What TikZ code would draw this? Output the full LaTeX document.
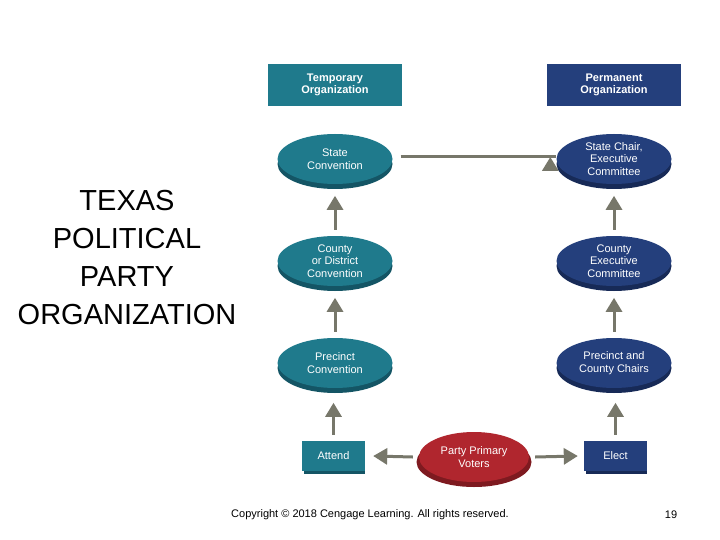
\documentclass[tikz,border=0pt]{standalone}
\usepackage{fontspec}
\setmainfont{Liberation Sans}
\usetikzlibrary{shapes.geometric,arrows.meta}
\definecolor{teal1}{HTML}{1F7A8C}
\definecolor{teal2}{HTML}{145565}
\definecolor{navy1}{HTML}{243F7C}
\definecolor{navy2}{HTML}{172A57}
\definecolor{red1}{HTML}{B0262E}
\definecolor{red2}{HTML}{7E1A20}
\definecolor{arr}{HTML}{77776A}
\tikzset{
 ell/.style={ellipse,minimum width=115pt,minimum height=50pt,inner sep=0pt,text=white,font=\fontsize{11}{12.5}\selectfont,align=center},
 box/.style={rectangle,text=white,font=\fontsize{11}{12.5}\selectfont,align=center,inner sep=0pt},
 hdr/.style={rectangle,text=white,font=\bfseries\fontsize{11}{12.5}\selectfont,align=center,minimum width=134pt,minimum height=42pt},
 conn/.style={draw=arr,line width=3pt,-{Triangle[length=14pt,width=16pt]}},
}
\newcommand{\disc}[4]{% name, pos, fill, shadow, text via node
}
\begin{document}
\begin{tikzpicture}[x=1pt,y=-1pt]
\useasboundingbox (0,0) rectangle (720,540);
\fill[white] (0,0) rectangle (720,540);
% shadows
\foreach \p/\c in {{335,164}/teal2,{335,266}/teal2,{335,368}/teal2,{614,164}/navy2,{614,266}/navy2,{614,368}/navy2,{474,462}/red2}
  \fill[\c] (\p) ellipse (57.5pt and 25pt);
\node[ell,fill=teal1] (sc) at (335,159) {State\\Convention};
\node[ell,fill=teal1] (cd) at (335,261) {County\\or District\\Convention};
\node[ell,fill=teal1] (pc) at (335,363) {Precinct\\Convention};
\node[ell,fill=navy1] (sch) at (614,159) {State Chair,\\Executive\\Committee};
\node[ell,fill=navy1] (ce) at (614,261) {County\\Executive\\Committee};
\node[ell,fill=navy1] (pcc) at (614,363) {Precinct and\\County Chairs};
\node[ell,fill=red1,minimum width=110pt] (ppv) at (474,457) {Party Primary\\Voters};
\fill[teal2] (304,449) rectangle (365,474);
\fill[navy2] (586,449) rectangle (647,474);
\node[box,fill=teal1,minimum width=63pt,minimum height=30pt] (att) at (333.5,456) {Attend};
\node[box,fill=navy1,minimum width=63pt,minimum height=30pt] (el) at (615.5,456) {Elect};
\node[hdr,fill=teal1] (tmp) at (335,85) {Temporary\\Organization};
\node[hdr,fill=navy1] (perm) at (614,85) {Permanent\\Organization};
% connectors
\draw[conn] (cd.north) ++(0,-6) coordinate (a1) -- ++(0,-34) coordinate (a2);
\draw[conn] (pc.north) ++(0,-6) -- ++(0,-34);
\draw[conn] (att.north) ++(0,-6) -- ++(0,-32);
\draw[conn] (ce.north) ++(0,-6) -- ++(0,-34);
\draw[conn] (pcc.north) ++(0,-6) -- ++(0,-34);
\draw[conn] (el.north) ++(0,-6) -- ++(0,-32);
\draw[conn] (sc.east) ++(8,-2) -- (sch.west |- 157,157) ++(-6,0);
\draw[conn] ([xshift=-6pt]ppv.west) -- ([xshift=8pt]att.east);
\draw[conn] ([xshift=6pt]ppv.east) -- ([xshift=-6pt]el.west);
% text
\node[align=center,font=\fontsize{29}{38}\selectfont] (title) at (127,258) {TEXAS\\POLITICAL\\PARTY\\ORGANIZATION};
\node[font=\fontsize{11}{13}\selectfont] (cr) at (370,515) {Copyright © 2018 Cengage Learning. All rights reserved.};
\node[font=\fontsize{11}{13}\selectfont] (pg) at (671,515) {19};
\end{tikzpicture}
\end{document}
